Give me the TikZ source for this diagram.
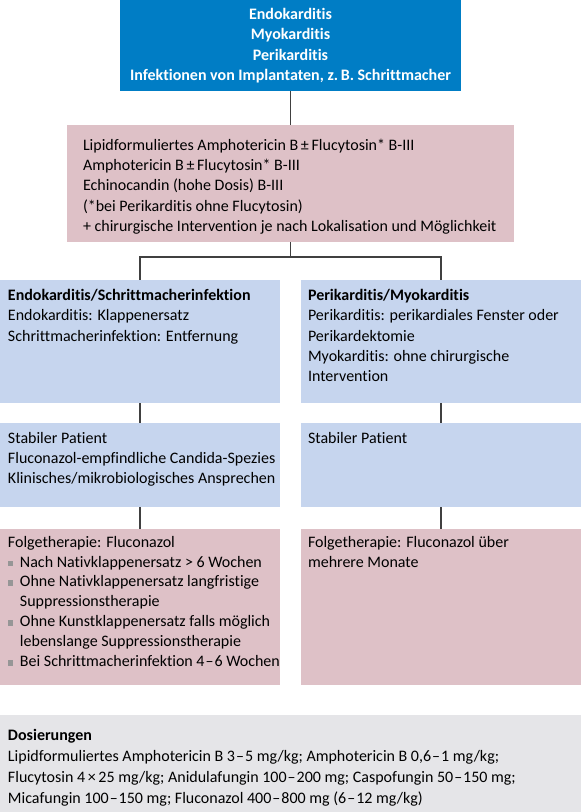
\documentclass[tikz,border=0pt]{standalone}
\usepackage{fontspec}
\setmainfont{Carlito}[Ligatures=NoCommon]
\definecolor{topblue}{RGB}{0,125,197}
\definecolor{lightblue}{RGB}{198,213,238}
\definecolor{pinkbox}{RGB}{222,193,199}
\definecolor{graybox}{RGB}{229,229,232}
\definecolor{linegray}{RGB}{64,64,64}
\definecolor{bulletgray}{RGB}{150,150,150}
\newlength{\bind}\setlength{\bind}{12pt}
\newcommand{\bsq}{\makebox[\bind][l]{\textcolor{bulletgray}{\rule[1pt]{5.5pt}{5.5pt}}}}
\newcommand{\ds}{\hspace{1pt}–\hspace{1pt}}
\begin{document}
\begin{tikzpicture}[x=1pt,y=-1pt,
  box/.style={draw=none,inner sep=0pt,outer sep=0pt,anchor=north west},
  txt/.style={inner sep=0pt,outer sep=0pt,anchor=north west,align=left,
    font=\fontsize{16}{20.4}\selectfont,text=black},
  conn/.style={draw=linegray,line width=1.2pt}]
\useasboundingbox (0,0) rectangle (581,812);

% boxes
\node[box,fill=topblue,minimum width=341pt,minimum height=91pt] (top) at (120,0) {};
\node[box,fill=pinkbox,minimum width=447pt,minimum height=117pt] (p1) at (67,125) {};
\node[box,fill=lightblue,minimum width=280pt,minimum height=123pt] (l1) at (0,280) {};
\node[box,fill=lightblue,minimum width=280pt,minimum height=123pt] (r1) at (301,280) {};
\node[box,fill=lightblue,minimum width=280pt,minimum height=84pt] (l2) at (0,423) {};
\node[box,fill=lightblue,minimum width=280pt,minimum height=84pt] (r2) at (301,423) {};
\node[box,fill=pinkbox,minimum width=280pt,minimum height=156pt] (l3) at (0,529) {};
\node[box,fill=pinkbox,minimum width=280pt,minimum height=156pt] (r3) at (301,529) {};
\node[box,fill=graybox,minimum width=581pt,minimum height=97pt] (g) at (0,715) {};

% connectors
\coordinate (split) at (290.5,257);
\draw[conn] (top.south) -- (p1.north);
\draw[conn] (p1.south) -- (split);
\draw[conn] (split) -| (l1.north);
\draw[conn] (split) -| (r1.north);
\draw[conn] (l1.south) -- (l2.north);
\draw[conn] (r1.south) -- (r2.north);
\draw[conn] (l2.south) -- (l3.north);
\draw[conn] (r2.south) -- (r3.north);

% texts
\node[txt,anchor=north,align=center,text=white,font=\fontsize{16}{20.5}\selectfont\bfseries] (ttop) at (290.5,8)
  {Endokarditis\\Myokarditis\\Perikarditis\\Infektionen von Implantaten, z.\,B. Schrittmacher};
\node[txt] (tp1) at (83,138.8)
  {Lipidformuliertes Amphotericin B\,±\,Flucytosin* B-III\\
   Amphotericin B\,±\,Flucytosin* B-III\\
   Echinocandin (hohe Dosis) B-III\\
   (*bei Perikarditis ohne Flucytosin)\\
   + chirurgische Intervention je nach Lokalisation und Möglichkeit};
\node[txt] (tl1) at (8,289)
  {\textbf{Endokarditis/Schrittmacherinfektion}\\
   Endokarditis: Klappenersatz\\
   Schrittmacherinfektion: Entfernung};
\node[txt] (tr1) at (308,289)
  {\textbf{Perikarditis/Myokarditis}\\
   Perikarditis: perikardiales Fenster oder\\
   Perikardektomie\\
   Myokarditis: ohne chirurgische\\
   Intervention};
\node[txt] (tl2) at (8,432)
  {Stabiler Patient\\
   Fluconazol-empfindliche Candida-Spezies\\
   Klinisches/mikrobiologisches Ansprechen};
\node[txt] (tr2) at (308,432) {Stabiler Patient};
\node[txt,font=\fontsize{16}{19.9}\selectfont] (tl3) at (8,536)
  {Folgetherapie: Fluconazol\\
   \bsq Nach Nativklappenersatz > 6 Wochen\\
   \bsq Ohne Nativklappenersatz langfristige\\
   \hspace*{\bind}Suppressionstherapie\\
   \bsq Ohne Kunstklappenersatz falls möglich\\
   \hspace*{\bind}lebenslange Suppressionstherapie\\
   \bsq Bei Schrittmacherinfektion 4\ds 6 Wochen};
\node[txt] (tr3) at (308,536)
  {Folgetherapie: Fluconazol über\\mehrere Monate};
\node[txt,font=\fontsize{16}{21.1}\selectfont] (tg) at (8,728.8)
  {\textbf{Dosierungen}\\
   Lipidformuliertes Amphotericin B 3\ds 5 mg/kg; Amphotericin B 0,6\ds 1 mg/kg;\\
   Flucytosin 4\,×\,25 mg/kg; Anidulafungin 100\ds 200 mg; Caspofungin 50\ds 150 mg;\\
   Micafungin 100\ds 150 mg; Fluconazol 400\ds 800 mg (6\ds 12 mg/kg)};
\end{tikzpicture}
\end{document}
